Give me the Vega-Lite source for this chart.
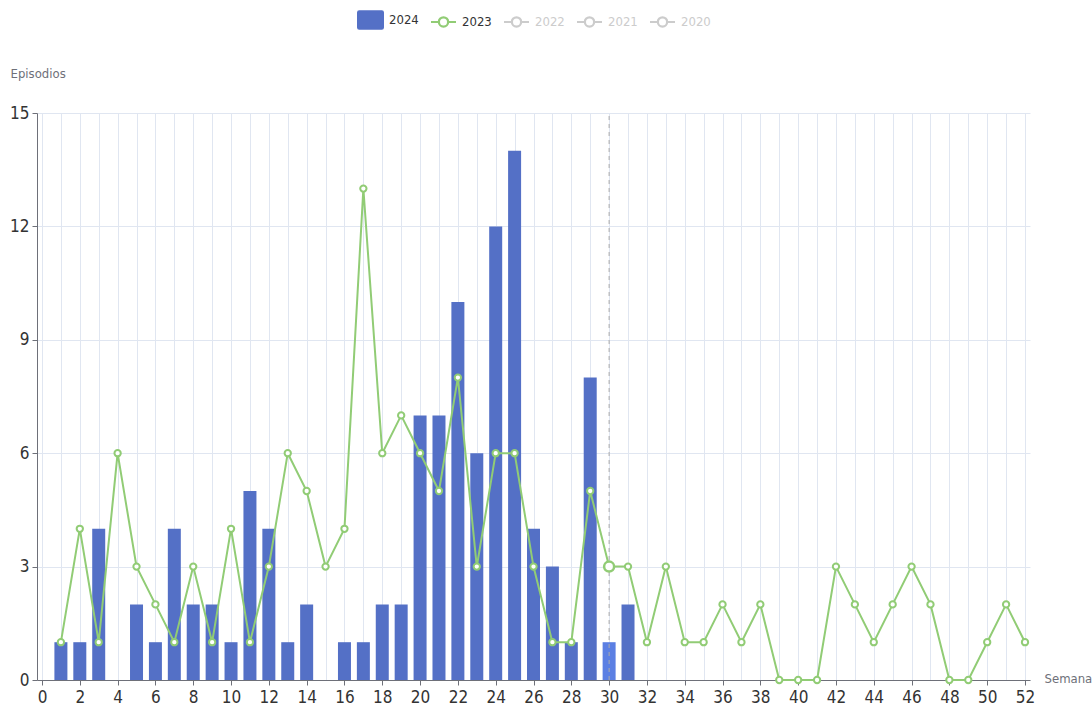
{
  "$schema": "https://vega.github.io/schema/vega-lite/v6.json",
  "width": 993,
  "height": 567,
  "autosize": {"type": "none"},
  "padding": {"left": 37, "top": 113, "right": 62, "bottom": 40},
  "background": "#ffffff",
  "config": {
    "font": "DejaVu Sans Condensed, Liberation Sans, sans-serif",
    "view": {"stroke": null}
  },
  "datasets": {
    "d2024": [
      {"week": 1, "year": "2024", "value": 1}, {"week": 2, "year": "2024", "value": 1},
      {"week": 3, "year": "2024", "value": 4}, {"week": 4, "year": "2024", "value": 0},
      {"week": 5, "year": "2024", "value": 2}, {"week": 6, "year": "2024", "value": 1},
      {"week": 7, "year": "2024", "value": 4}, {"week": 8, "year": "2024", "value": 2},
      {"week": 9, "year": "2024", "value": 2}, {"week": 10, "year": "2024", "value": 1},
      {"week": 11, "year": "2024", "value": 5}, {"week": 12, "year": "2024", "value": 4},
      {"week": 13, "year": "2024", "value": 1}, {"week": 14, "year": "2024", "value": 2},
      {"week": 15, "year": "2024", "value": 0}, {"week": 16, "year": "2024", "value": 1},
      {"week": 17, "year": "2024", "value": 1}, {"week": 18, "year": "2024", "value": 2},
      {"week": 19, "year": "2024", "value": 2}, {"week": 20, "year": "2024", "value": 7},
      {"week": 21, "year": "2024", "value": 7}, {"week": 22, "year": "2024", "value": 10},
      {"week": 23, "year": "2024", "value": 6}, {"week": 24, "year": "2024", "value": 12},
      {"week": 25, "year": "2024", "value": 14}, {"week": 26, "year": "2024", "value": 4},
      {"week": 27, "year": "2024", "value": 3}, {"week": 28, "year": "2024", "value": 1},
      {"week": 29, "year": "2024", "value": 8}, {"week": 30, "year": "2024", "value": 1},
      {"week": 31, "year": "2024", "value": 2}
    ],
    "d2023": [
      {"week": 1, "year": "2023", "value": 1}, {"week": 2, "year": "2023", "value": 4},
      {"week": 3, "year": "2023", "value": 1}, {"week": 4, "year": "2023", "value": 6},
      {"week": 5, "year": "2023", "value": 3}, {"week": 6, "year": "2023", "value": 2},
      {"week": 7, "year": "2023", "value": 1}, {"week": 8, "year": "2023", "value": 3},
      {"week": 9, "year": "2023", "value": 1}, {"week": 10, "year": "2023", "value": 4},
      {"week": 11, "year": "2023", "value": 1}, {"week": 12, "year": "2023", "value": 3},
      {"week": 13, "year": "2023", "value": 6}, {"week": 14, "year": "2023", "value": 5},
      {"week": 15, "year": "2023", "value": 3}, {"week": 16, "year": "2023", "value": 4},
      {"week": 17, "year": "2023", "value": 13}, {"week": 18, "year": "2023", "value": 6},
      {"week": 19, "year": "2023", "value": 7}, {"week": 20, "year": "2023", "value": 6},
      {"week": 21, "year": "2023", "value": 5}, {"week": 22, "year": "2023", "value": 8},
      {"week": 23, "year": "2023", "value": 3}, {"week": 24, "year": "2023", "value": 6},
      {"week": 25, "year": "2023", "value": 6}, {"week": 26, "year": "2023", "value": 3},
      {"week": 27, "year": "2023", "value": 1}, {"week": 28, "year": "2023", "value": 1},
      {"week": 29, "year": "2023", "value": 5}, {"week": 30, "year": "2023", "value": 3},
      {"week": 31, "year": "2023", "value": 3}, {"week": 32, "year": "2023", "value": 1},
      {"week": 33, "year": "2023", "value": 3}, {"week": 34, "year": "2023", "value": 1},
      {"week": 35, "year": "2023", "value": 1}, {"week": 36, "year": "2023", "value": 2},
      {"week": 37, "year": "2023", "value": 1}, {"week": 38, "year": "2023", "value": 2},
      {"week": 39, "year": "2023", "value": 0}, {"week": 40, "year": "2023", "value": 0},
      {"week": 41, "year": "2023", "value": 0}, {"week": 42, "year": "2023", "value": 3},
      {"week": 43, "year": "2023", "value": 2}, {"week": 44, "year": "2023", "value": 1},
      {"week": 45, "year": "2023", "value": 2}, {"week": 46, "year": "2023", "value": 3},
      {"week": 47, "year": "2023", "value": 2}, {"week": 48, "year": "2023", "value": 0},
      {"week": 49, "year": "2023", "value": 0}, {"week": 50, "year": "2023", "value": 1},
      {"week": 51, "year": "2023", "value": 2}, {"week": 52, "year": "2023", "value": 1}
    ],
    "pointer": [{"week": 30, "lo": 0, "hi": 15}]
  },
  "encoding": {
    "x": {
      "field": "week",
      "type": "quantitative",
      "scale": {"domain": [0, 52], "nice": false, "zero": false},
      "axis": {
        "values": [0,1,2,3,4,5,6,7,8,9,10,11,12,13,14,15,16,17,18,19,20,21,22,23,24,25,26,27,28,29,30,31,32,33,34,35,36,37,38,39,40,41,42,43,44,45,46,47,48,49,50,51,52],
        "labelExpr": "datum.value % 2 == 0 ? datum.label : ''",
        "grid": true,
        "gridColor": "#e0e6f1",
        "gridWidth": 1,
        "domainColor": "#6e7079",
        "domainWidth": 1,
        "tickColor": "#6e7079",
        "tickOpacity": {"condition": {"test": "datum.value % 2 == 1", "value": 0}, "value": 1},
        "tickSize": 5,
        "labelFontSize": 17,
        "labelColor": "#333333",
        "labelPadding": 4,
        "labelFlush": false,
        "labelOverlap": false,
        "title": "Semana",
        "titleFontSize": 13,
        "titleFontWeight": "normal",
        "titleColor": "#6e7079",
        "titleX": 1007,
        "titleY": -2,
        "titleAlign": "left",
        "titleBaseline": "middle",
        "titleAnchor": null
      }
    },
    "y": {
      "field": "value",
      "type": "quantitative",
      "scale": {"domain": [0, 15], "nice": false},
      "axis": {
        "values": [0, 3, 6, 9, 12, 15],
        "grid": true,
        "gridColor": "#e0e6f1",
        "domain": true,
        "domainColor": "#6e7079",
        "tickColor": "#6e7079",
        "tickSize": 5,
        "labelFontSize": 17,
        "labelColor": "#333333",
        "labelPadding": 3,
        "title": "Episodios",
        "titleAngle": 0,
        "titleFontSize": 13,
        "titleFontWeight": "normal",
        "titleColor": "#6e7079",
        "titleX": -27,
        "titleY": -40,
        "titleAlign": "left",
        "titleBaseline": "middle",
        "titleAnchor": null
      }
    }
  },
  "layer": [
    {
      "data": {"name": "d2024"},
      "mark": {"type": "bar", "size": 13},
      "encoding": {
        "color": {
          "condition": {"test": "datum.week == 30", "value": "#5b7fe3"},
          "field": "year",
          "type": "nominal",
          "scale": {
            "domain": ["2024", "2023", "2022", "2021", "2020"],
            "range": ["#5470c6", "#91cc75", "#cccccc", "#cccccc", "#cccccc"]
          },
          "legend": {
            "orient": "none",
            "legendX": 320,
            "legendY": -107,
            "direction": "horizontal",
            "columns": 5,
            "title": null,
            "symbolSize": 625,
            "symbolStrokeWidth": 2,
            "labelFontSize": 13,
            "labelOffset": 5,
            "columnPadding": 8,
            "labelColor": "#333333",
            "encoding": {
              "symbols": {
                "shape": {
                  "condition": {"test": "datum.value == '2024'", "value": "M-0.9,-0.7 L0.9,-0.7 Q1,-0.7 1,-0.6 L1,0.6 Q1,0.7 0.9,0.7 L-0.9,0.7 Q-1,0.7 -1,0.6 L-1,-0.6 Q-1,-0.7 -0.9,-0.7 Z"},
                  "value": "M-1,0 L-0.38,0 M0.38,0 L1,0 M-0.38,0 A0.38,0.38 0 1 1 0.38,0 A0.38,0.38 0 1 1 -0.38,0 Z M-0.36,0 A0.36,0.36 0 1 0 0.36,0 A0.36,0.36 0 1 0 -0.36,0 Z"
                },
                "stroke": {
                  "condition": [
                    {"test": "datum.value == '2024'", "value": "#5470c6"},
                    {"test": "datum.value == '2023'", "value": "#91cc75"}
                  ],
                  "value": "#cccccc"
                },
                "strokeWidth": {"value": 2},
                "opacity": {"value": 1}
              },
              "labels": {
                "fill": {
                  "condition": {"test": "datum.value == '2024' || datum.value == '2023'", "value": "#333333"},
                  "value": "#cccccc"
                }
              }
            }
          }
        }
      }
    },
    {
      "data": {"name": "pointer"},
      "mark": {"type": "rule", "color": "#aaaaaa", "strokeDash": [4, 4], "strokeWidth": 1},
      "encoding": {"y": {"field": "lo", "type": "quantitative"}, "y2": {"field": "hi"}}
    },
    {
      "data": {"name": "d2023"},
      "mark": {"type": "line", "strokeWidth": 2},
      "encoding": {
        "color": {"field": "year", "type": "nominal"}
      }
    },
    {
      "data": {"name": "d2023"},
      "mark": {"type": "point", "filled": true, "fill": "#ffffff", "stroke": "#91cc75", "strokeWidth": 2, "size": 40, "opacity": 1}
    },
    {
      "data": {"name": "d2023"},
      "transform": [{"filter": "datum.week == 30"}],
      "mark": {"type": "point", "filled": true, "fill": "#ffffff", "stroke": "#91cc75", "strokeWidth": 2.5, "size": 100, "opacity": 1}
    }
  ]
}
